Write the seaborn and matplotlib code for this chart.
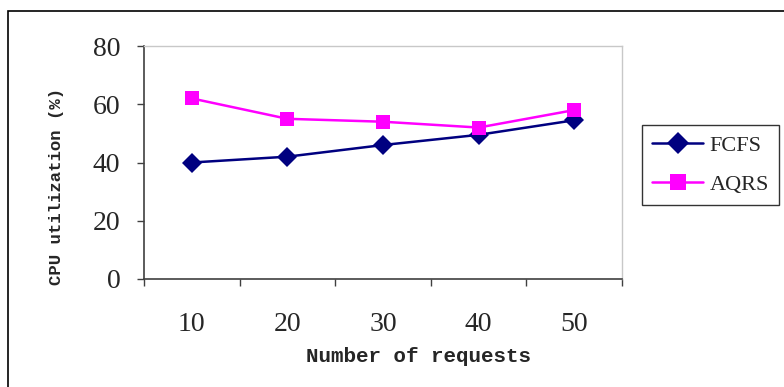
import matplotlib
matplotlib.use("Agg")
import matplotlib.pyplot as plt
from matplotlib.patches import Rectangle
from matplotlib.lines import Line2D
import seaborn as sns
import pandas as pd

# Data
requests = ["10", "20", "30", "40", "50"]
fcfs = [40, 42, 46, 49.5, 54.5]
aqrs = [62, 55, 54, 52, 58]
series_names = ["FCFS", "AQRS"]
y_ticks = [0, 20, 40, 60, 80]

colors = {"FCFS": "#000080", "AQRS": "#FF00FF"}
markers = {"FCFS": "D", "AQRS": "s"}

df = pd.DataFrame({
    "requests": requests * 2,
    "pos": list(range(len(requests))) * 2,
    "util": fcfs + aqrs,
    "series": [series_names[0]] * len(requests) + [series_names[1]] * len(requests),
})

sns.set_theme(style="white")
plt.rcParams["font.family"] = ["Liberation Serif", "DejaVu Serif"]

fig = plt.figure(figsize=(7.84, 3.87), dpi=100)
ax = fig.add_axes([144 / 784, 1 - 279 / 387, 478 / 784, 233 / 387])

sns.lineplot(data=df, x="pos", y="util", hue="series", style="series",
             palette=colors, markers=markers, dashes=False, markersize=10,
             linewidth=1.8, markeredgewidth=0, legend=False, ax=ax)

n = len(requests)
ax.set_xlim(-0.5, n - 0.5)
ax.set_ylim(0, 80)

# boundary ticks between categories, labels at category centres
ax.set_xticks([i - 0.5 for i in range(n + 1)])
ax.set_xticklabels([])
ax.set_xticks(list(range(n)), minor=True)
ax.set_xticklabels(requests, minor=True)
ax.tick_params(axis="x", which="major", direction="out", length=5, width=1,
               color="#404040", bottom=True)
ax.tick_params(axis="x", which="minor", length=0, pad=24, labelsize=20)

ax.set_yticks(y_ticks)
ax.set_yticklabels([str(v) for v in y_ticks])
ax.tick_params(axis="y", direction="out", length=5, width=1, color="#404040",
               left=True, pad=12, labelsize=20)

for side in ["left", "bottom"]:
    ax.spines[side].set_color("#404040")
    ax.spines[side].set_linewidth(1.2)
for side in ["top", "right"]:
    ax.spines[side].set_color("#c8c8c8")
    ax.spines[side].set_linewidth(1.0)
ax.grid(False)

ax.set_xlabel("Number of requests", family="Liberation Mono", fontweight="bold",
              fontsize=15)
ax.xaxis.set_label_coords((418 - 144) / 478, (279 - 357) / 233)
ax.xaxis.label.set_va("center")

ax.set_ylabel("CPU utilization (%)", family="Liberation Mono", fontweight="bold",
              fontsize=12.5)
ax.yaxis.set_label_coords((57 - 144) / 478, (279 - 186) / 233)
ax.yaxis.label.set_va("center")

# Legend
handles = [Line2D([], [], color=colors[s], marker=markers[s], markersize=11,
                  markeredgewidth=0, linewidth=1.8) for s in series_names]
leg = fig.legend(handles, series_names, loc="upper left",
                 bbox_to_anchor=(642 / 784, 1 - 125 / 387), frameon=True,
                 fancybox=False, fontsize=16, handlelength=2.3,
                 borderpad=0.45, labelspacing=0.85, handletextpad=0.3,
                 borderaxespad=0)
leg.get_frame().set_edgecolor("black")
leg.get_frame().set_linewidth(1.0)

# outer chart frame
fig.patches.append(Rectangle((8 / 784, -0.1), 1.2, 1 - 11 / 387 + 0.1,
                             transform=fig.transFigure, fill=False,
                             edgecolor="black", linewidth=1.2))

fig.savefig("out.png", dpi=100)
